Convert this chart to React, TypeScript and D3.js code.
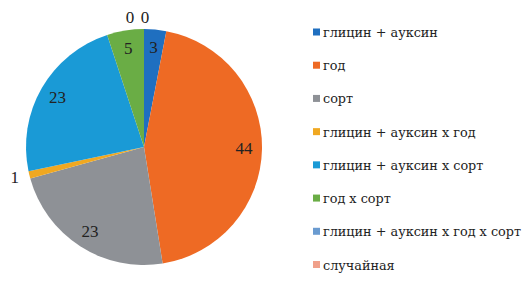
import React from "react";
import * as d3 from "d3";

const categories = [
  "глицин + ауксин",
  "год",
  "сорт",
  "глицин + ауксин х год",
  "глицин + ауксин х сорт",
  "год х сорт",
  "глицин + ауксин х год х сорт",
  "случайная",
];
const values = [3, 44, 23, 1, 23, 5, 0, 0];
const colors = ["#1f6fc0", "#ee6a24", "#8e9196", "#f0a821", "#1a9ad6", "#6aad45", "#6a9bd0", "#f0a08a"];
const outsideLabels = [false, false, false, true, false, false, true, true];

const W = 523;
const H = 282;
const NUM_FONT = "'Liberation Serif', 'Times New Roman', serif";
const LEG_FONT = "'DejaVu Serif', serif";

export default function App() {
  const cx = 144;
  const cy = 147;
  const R = 118;
  const pie = d3.pie<number>().sort(null).value((d) => d);
  const arcs = pie(values);
  const arc = d3.arc<d3.PieArcDatum<number>>().innerRadius(0).outerRadius(R);
  const inLabel = d3.arc<d3.PieArcDatum<number>>().innerRadius(100).outerRadius(100);
  const outLabel = d3.arc<d3.PieArcDatum<number>>().innerRadius(130).outerRadius(130);
  const legendY = d3.scalePoint<number>().domain(d3.range(categories.length)).range([32.5, 265]);

  let zeroCount = 0;
  const zeros = values.filter((v) => v === 0).length;

  return (
    <svg width={W} height={H} style={{ position: "absolute", left: 0, top: 0, background: "#fff" }}>
      <g transform={`translate(${cx},${cy})`}>
        {arcs.map((a, i) => (
          <path key={i} d={arc(a) || ""} fill={colors[i]} />
        ))}
        {arcs.map((a, i) => {
          const outside = outsideLabels[i];
          let [x, y] = outside ? outLabel.centroid(a) : inLabel.centroid(a);
          if (values[i] === 0) {
            x += (zeroCount - (zeros - 1)) * 15 + 1;
            zeroCount++;
          }
          if (outside && values[i] !== 0) x -= 3;
          return (
            <text
              key={i}
              x={x}
              y={y}
              textAnchor="middle"
              dominantBaseline="central"
              style={{ fontFamily: NUM_FONT, fontSize: 17 }}
              fill="#222"
            >
              {values[i]}
            </text>
          );
        })}
      </g>
      <g>
        {categories.map((c, i) => (
          <g key={i} transform={`translate(313,${legendY(i)})`}>
            <rect x={0} y={-4} width={7} height={7} fill={colors[i]} />
            <text
              x={10}
              y={0}
              dominantBaseline="central"
              style={{ fontFamily: LEG_FONT, fontSize: 12.8 }}
              fill="#222"
            >
              {c}
            </text>
          </g>
        ))}
      </g>
    </svg>
  );
}
